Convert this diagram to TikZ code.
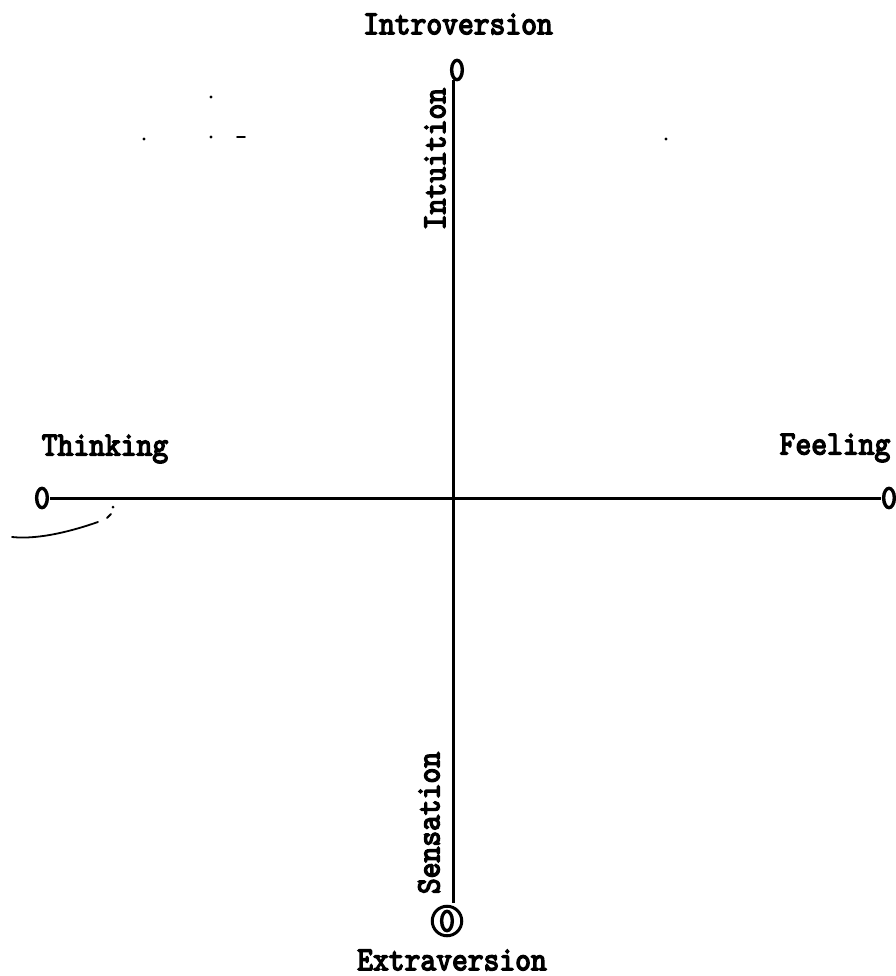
\documentclass[tikz,border=0pt]{standalone}
\usepackage{fontspec}
\newfontfamily\twfont{lmmono10-regular.otf}[FakeBold=4,FakeStretch=0.885]
\begin{document}
\begin{tikzpicture}[x=1pt,y=-1pt,
  lbl/.style={font=\fontsize{34}{34}\selectfont\twfont, inner sep=0pt},
  axis/.style={line width=3pt},
  scrib/.style={line width=1.8pt, line cap=round}]
\useasboundingbox (0,0) rectangle (895,976);
\node[lbl] (intro) at (458,24) {Introversion};
\node[lbl] (extra) at (452,960) {Extraversion};
\node[lbl] (think) at (105,449) {Thinking};
\node[lbl] (feel) at (835,448) {Feeling};
\node[lbl, rotate=90] (intu) at (435,159) {Intuition};
\node[lbl, rotate=90] (sens) at (429,823) {Sensation};
\node[lbl] (zt) at (42,498) {0};
\node[lbl] (zf) at (889,498) {0};
\node[lbl] (zi) at (457,70) {0};
\node[lbl, draw, circle, line width=3pt, inner sep=1pt] (ze) at (447,921) {0};
\coordinate (vtop) at (453,80);
\coordinate (vbot) at (453,903);
\draw[axis] (zt.east) -- (zf.west);
\draw[axis] (vtop) -- (vbot);
% stray marks of the scan
\draw[scrib] (12,537) .. controls (40,540) and (75,530) .. (98,522);
\draw[scrib] (107,518) -- (111,514);
\fill (113,507) circle (1.5);
\fill (144,139) circle (1.6);
\fill (211,97) circle (1.6);
\fill (211,137) circle (1.6);
\draw[scrib] (237,137) -- (245,137);
\fill (666,139) circle (1.6);
\end{tikzpicture}
\end{document}
